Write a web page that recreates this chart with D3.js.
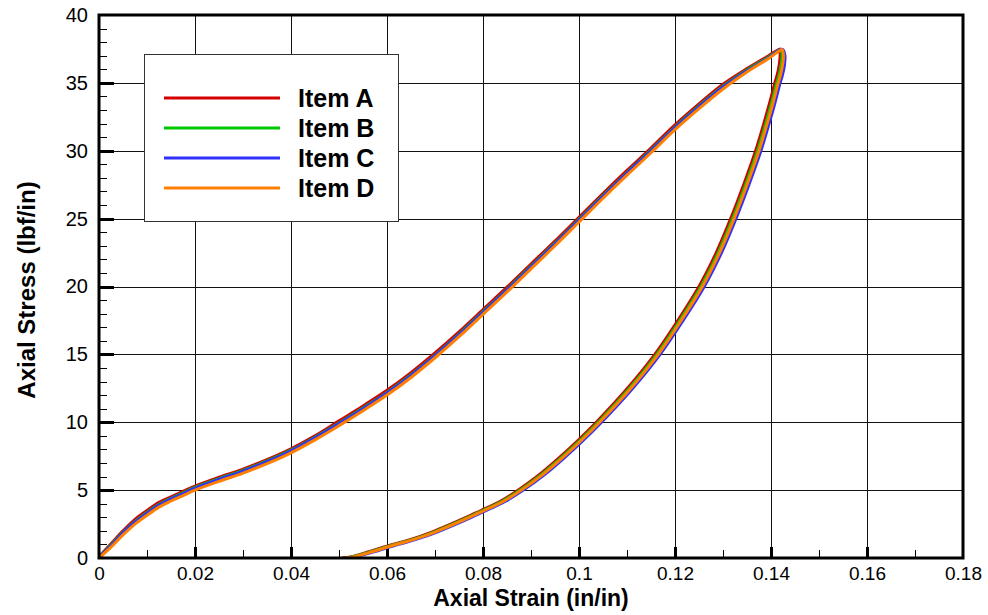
<!DOCTYPE html>
<html>
<head>
<meta charset="utf-8">
<script src="https://cdn.jsdelivr.net/npm/d3@7"></script>
<style>
  html, body { margin: 0; padding: 0; background: #fff; }
  svg { display: block; font-family: "Liberation Sans", Arial, Helvetica, sans-serif; }
</style>
</head>
<body>
<svg id="chart" width="988" height="615"></svg>
<script>
// Loading branch: shared strain grid, stress per item
const loadStrain = [0, 0.0025, 0.005, 0.0075, 0.01, 0.0125, 0.015, 0.0175, 0.02, 0.025, 0.03, 0.035, 0.04, 0.045, 0.05, 0.055, 0.06, 0.065, 0.07, 0.075, 0.08, 0.085, 0.09, 0.095, 0.1, 0.105, 0.11, 0.115, 0.12, 0.125, 0.13, 0.135, 0.1395, 0.1419];
const loadStressA = [0.1, 1.05, 2.0, 2.85, 3.5, 4.1, 4.5, 4.9, 5.3, 5.95, 6.55, 7.25, 8.05, 9.0, 10.1, 11.2, 12.35, 13.65, 15.1, 16.65, 18.3, 19.95, 21.65, 23.35, 25.1, 26.85, 28.55, 30.2, 31.9, 33.45, 34.9, 36.05, 37.0, 37.5];
const loadStressB = [0.05, 0.95, 1.9, 2.7, 3.35, 3.95, 4.4, 4.8, 5.2, 5.85, 6.45, 7.15, 7.95, 8.9, 9.95, 11.05, 12.2, 13.5, 14.95, 16.5, 18.15, 19.8, 21.5, 23.2, 24.95, 26.7, 28.4, 30.05, 31.75, 33.3, 34.75, 35.95, 36.9, 37.45];
const loadStressC = [0.05, 0.9, 1.85, 2.65, 3.3, 3.9, 4.35, 4.75, 5.15, 5.8, 6.4, 7.1, 7.9, 8.85, 9.9, 11.0, 12.15, 13.45, 14.9, 16.45, 18.1, 19.75, 21.45, 23.15, 24.9, 26.65, 28.35, 30.0, 31.7, 33.25, 34.7, 35.9, 36.85, 37.45];
const loadStressD = [0.0, 0.8, 1.7, 2.5, 3.15, 3.75, 4.2, 4.6, 5.0, 5.65, 6.25, 6.95, 7.75, 8.7, 9.75, 10.85, 12.0, 13.3, 14.75, 16.3, 17.95, 19.6, 21.3, 23.0, 24.75, 26.5, 28.2, 29.85, 31.55, 33.1, 34.55, 35.8, 36.8, 37.4];

// Unloading branch: shared stress grid, strain per item
const unloadStress = [37.45, 37.0, 36.3, 35.6, 35.0, 33.5, 32.0, 30.0, 27.5, 25.0, 22.5, 20.0, 17.5, 15.0, 12.5, 10.0, 8.6, 7.3, 6.1, 5.0, 4.2, 3.5, 3.15, 2.8, 1.95, 1.35, 0.85, 0.4, 0.1, 0.0];
const unloadStrainA = [0.1419, 0.1419, 0.1417, 0.1413, 0.1408, 0.1397, 0.1385, 0.1368, 0.1343, 0.1316, 0.1286, 0.1250, 0.1206, 0.1158, 0.1101, 0.1036, 0.0996, 0.0956, 0.0916, 0.0873, 0.0837, 0.0796, 0.0774, 0.0753, 0.0696, 0.0648, 0.0598, 0.0556, 0.0526, 0.0507];
const unloadStrainB = [0.1421, 0.1423, 0.1421, 0.1417, 0.1412, 0.1401, 0.1389, 0.1372, 0.1347, 0.1320, 0.1290, 0.1254, 0.1210, 0.1162, 0.1105, 0.1040, 0.1000, 0.0960, 0.0920, 0.0877, 0.0841, 0.0800, 0.0778, 0.0757, 0.0700, 0.0652, 0.0602, 0.0560, 0.0530, 0.0514];
const unloadStrainC = [0.1425, 0.1429, 0.1428, 0.1424, 0.1419, 0.1408, 0.1396, 0.1379, 0.1354, 0.1327, 0.1297, 0.1261, 0.1217, 0.1169, 0.1112, 0.1047, 0.1007, 0.0967, 0.0927, 0.0884, 0.0848, 0.0807, 0.0785, 0.0764, 0.0707, 0.0659, 0.0609, 0.0567, 0.0537, 0.0521];
const unloadStrainD = [0.1423, 0.1426, 0.1424, 0.1420, 0.1415, 0.1404, 0.1392, 0.1375, 0.1350, 0.1323, 0.1293, 0.1257, 0.1213, 0.1165, 0.1108, 0.1043, 0.1003, 0.0963, 0.0923, 0.0880, 0.0844, 0.0803, 0.0781, 0.0760, 0.0703, 0.0655, 0.0605, 0.0563, 0.0533, 0.0517];

const itemNames = ["Item A", "Item B", "Item C", "Item D"];
const itemColors = ["#d40000", "#00c800", "#3030ff", "#ff8000"];

const xTicks = [0, 0.02, 0.04, 0.06, 0.08, 0.1, 0.12, 0.14, 0.16, 0.18];
const xTickLabels = ["0", "0.02", "0.04", "0.06", "0.08", "0.1", "0.12", "0.14", "0.16", "0.18"];
const yTicks = [0, 5, 10, 15, 20, 25, 30, 35, 40];

const xTitle = "Axial Strain (in/in)";
const yTitle = "Axial Stress (lbf/in)";

// Build one loop path per item: load up, then unload down
const loads = [loadStressA, loadStressB, loadStressC, loadStressD];
const unloads = [unloadStrainA, unloadStrainB, unloadStrainC, unloadStrainD];
const series = itemNames.map((name, i) => ({
  name,
  color: itemColors[i],
  points: loadStrain.map((s, j) => [s, loads[i][j]])
    .concat(unloadStress.map((st, j) => [unloads[i][j], st]))
}));

const svg = d3.select("#chart");
const margin = { left: 99, right: 25, top: 15, bottom: 57 };
const W = 988, H = 615;
const x = d3.scaleLinear().domain([0, 0.18]).range([margin.left, W - margin.right]);
const y = d3.scaleLinear().domain([0, 40]).range([H - margin.bottom, margin.top]);

const x0 = x.range()[0], x1 = x.range()[1];
const y0 = y.range()[0], y1 = y.range()[1];

// Grid
const grid = svg.append("g").attr("stroke", "#111").attr("stroke-width", 1).attr("shape-rendering", "crispEdges");
grid.selectAll("line.vx").data(xTicks.slice(1, -1)).join("line")
  .attr("x1", d => Math.round(x(d)) + 0.5).attr("x2", d => Math.round(x(d)) + 0.5)
  .attr("y1", y1).attr("y2", y0);
grid.selectAll("line.hy").data(yTicks.slice(1, -1)).join("line")
  .attr("y1", d => Math.round(y(d)) + 0.5).attr("y2", d => Math.round(y(d)) + 0.5)
  .attr("x1", x0).attr("x2", x1);

// Minor and major ticks (inward)
const xMinor = d3.range(0.01, 0.18, 0.02);
const yMinor = d3.range(1, 40, 1).filter(v => v % 5 !== 0);
const ticks = svg.append("g").attr("stroke", "#000").attr("shape-rendering", "crispEdges");
ticks.selectAll("line.xm").data(xMinor).join("line")
  .attr("stroke-width", 1)
  .attr("x1", d => Math.round(x(d)) + 0.5).attr("x2", d => Math.round(x(d)) + 0.5)
  .attr("y1", y0).attr("y2", y0 - 8);
ticks.selectAll("line.xM").data(xTicks.slice(1, -1)).join("line")
  .attr("stroke-width", 3)
  .attr("x1", d => Math.round(x(d)) + 0.5).attr("x2", d => Math.round(x(d)) + 0.5)
  .attr("y1", y0).attr("y2", y0 - 11);
ticks.selectAll("line.ym").data(yMinor).join("line")
  .attr("stroke-width", 1)
  .attr("y1", d => Math.round(y(d)) + 0.5).attr("y2", d => Math.round(y(d)) + 0.5)
  .attr("x1", x0).attr("x2", x0 + 8);
ticks.selectAll("line.yM").data(yTicks.slice(1, -1)).join("line")
  .attr("stroke-width", 3)
  .attr("y1", d => Math.round(y(d)) + 0.5).attr("y2", d => Math.round(y(d)) + 0.5)
  .attr("x1", x0).attr("x2", x0 + 15);

// Curves
const line = d3.line()
  .x(d => x(d[0]))
  .y(d => y(d[1]))
  .curve(d3.curveCatmullRom.alpha(0.5));

svg.append("clipPath").attr("id", "plotClip")
  .append("rect").attr("x", x0).attr("y", y1 - 5).attr("width", x1 - x0).attr("height", y0 - y1 + 5);

svg.append("g").attr("clip-path", "url(#plotClip)")
  .selectAll("path.series").data(series).join("path")
  .attr("class", "series")
  .attr("fill", "none")
  .attr("stroke", d => d.color)
  .attr("stroke-width", 3)
  .attr("stroke-linejoin", "round")
  .attr("stroke-linecap", "round")
  .attr("d", d => line(d.points));

// Frame
svg.append("rect")
  .attr("x", x0).attr("y", y1)
  .attr("width", x1 - x0).attr("height", y0 - y1)
  .attr("fill", "none").attr("stroke", "#000").attr("stroke-width", 3);

// Tick labels via d3 axes (tick marks hidden, only text)
const labelFont = "'Liberation Sans', Arial, sans-serif";
const xAxis = d3.axisBottom(x).tickValues(xTicks).tickFormat((d, i) => xTickLabels[i]).tickSize(0).tickPadding(0);
const gx = svg.append("g").attr("transform", `translate(0,${y0})`).call(xAxis);
gx.select(".domain").remove();
gx.selectAll("text").attr("font-size", 19).attr("fill", "#000")
  .attr("font-family", labelFont)
  .attr("dy", null).attr("y", 22);

const yAxis = d3.axisLeft(y).tickValues(yTicks).tickFormat(d3.format("d")).tickSize(0).tickPadding(11);
const gy = svg.append("g").attr("transform", `translate(${x0},0)`).call(yAxis);
gy.select(".domain").remove();
gy.selectAll("text").attr("font-size", 20).attr("fill", "#000")
  .attr("font-family", labelFont);

// Axis titles
svg.append("text")
  .attr("x", 531).attr("y", 606)
  .attr("text-anchor", "middle")
  .attr("font-size", 23).attr("font-weight", "bold")
  .text(xTitle);
svg.append("text")
  .attr("transform", "translate(35,290) rotate(-90)")
  .attr("text-anchor", "middle")
  .attr("font-size", 24).attr("font-weight", "bold")
  .text(yTitle);

// Legend
const legend = svg.append("g");
legend.append("rect")
  .attr("x", 144.5).attr("y", 54.5).attr("width", 254).attr("height", 167)
  .attr("fill", "#fff").attr("stroke", "#333").attr("stroke-width", 1);
const rows = legend.selectAll("g.row").data(series).join("g")
  .attr("transform", (d, i) => `translate(0,${98 + i * 30})`);
rows.append("line")
  .attr("x1", 164).attr("x2", 280).attr("y1", 0).attr("y2", 0)
  .attr("stroke", d => d.color).attr("stroke-width", 3);
rows.append("text")
  .attr("x", 298).attr("y", 9)
  .attr("font-size", 25).attr("font-weight", "bold")
  .text(d => d.name);
</script>
</body>
</html>
